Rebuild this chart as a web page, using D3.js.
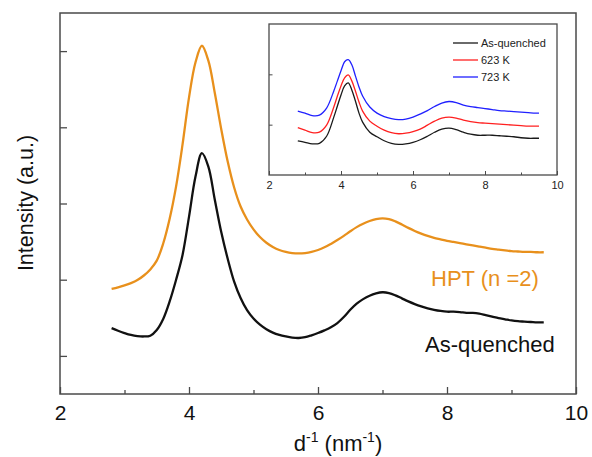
<!DOCTYPE html>
<html><head><meta charset="utf-8">
<script src="https://cdn.jsdelivr.net/npm/d3@7"></script>
<style>body{margin:0;background:#fff} svg{display:block} text{font-family:"Liberation Sans",Arial,sans-serif}</style>
</head><body><svg id="c" width="592" height="457"></svg>
<script>
// ---- main chart data ----
const xMain = [2.8,2.9,3.0,3.1,3.2,3.3,3.4,3.5,3.6,3.7,3.8,3.9,4.0,4.1,4.2,4.3,4.4,4.5,4.6,4.7,4.8,4.9,5.0,5.1,5.2,5.3,5.4,5.5,5.6,5.7,5.8,5.9,6.0,6.1,6.2,6.3,6.4,6.5,6.6,6.7,6.8,6.9,7.0,7.1,7.2,7.3,7.4,7.5,7.6,7.7,7.8,7.9,8.0,8.1,8.2,8.3,8.4,8.5,8.6,8.7,8.8,8.9,9.0,9.1,9.2,9.3,9.4,9.5];
const asQuenched = [173,166,160,155,152,151,153,168,197,243,300,365,465,570,632,597,510,425,355,295,252,220,198,182,170,161,155,151,148,147,149,154,160,167,175,186,202,221,237,249,258,264,267,265,259,251,243,236,230,225,221,218,216,216,215,213,213,211,207,203,199,196,193,191,190,189,188,188];
const hpt = [276,280,285,291,299,311,327,350,395,460,545,655,778,870,914,875,790,695,610,542,492,458,432,412,397,386,378,373,370,369,370,373,378,385,394,404,415,427,438,447,454,459,461,459,453,445,436,428,421,415,410,406,402,399,396,393,390,387,384,381,379,377,375,374,373,373,372,372];
const mainXTicks = [2,4,6,8,10];
const mainXMinor = [3,5,7,9];
const mainYTicks = [100,300,500,700,900];
const mainLabels = ["HPT (n =2)", "As-quenched"];

// ---- inset data ----
const xInset = [2.8,3.0,3.2,3.4,3.6,3.8,3.9,4.0,4.1,4.2,4.3,4.4,4.5,4.6,4.8,5.0,5.2,5.4,5.6,5.8,6.0,6.2,6.4,6.6,6.8,7.0,7.2,7.4,7.6,7.8,8.0,8.2,8.4,8.6,8.8,9.0,9.2,9.4,9.5];
const insetAsQuenched = [68,65,62,63,77,115,137,159,177,183,169,147,123,105,85,76,68,63,61,62,65,70,77,85,91,93,90,85,81,79,79,79,78,77,76,74,73,73,73];
const inset623 = [94,89,84,85,99,135,157,177,193,199,187,167,145,127,107,97,89,84,82,83,86,91,99,107,113,115,113,109,106,104,103,102,101,100,99,98,97,97,97];
const inset723 = [127,123,118,119,133,167,187,207,225,229,219,197,175,157,135,123,116,112,110,111,115,121,128,136,143,146,144,139,136,134,132,130,128,127,126,125,124,123,123];
const insetNames = ["As-quenched","623 K","723 K"];
const insetColors = ["#1a1a1a","#ff2020","#2020ff"];
const insetXTicks = [2,4,6,8,10];
const insetXMinor = [3,5,7,9];
const insetYTicks = [100,200];

const svg = d3.select("#c");
const frameColor = "#4a4a4a";
const FONT = "Liberation Sans, Arial, sans-serif";

// ---- main scales ----
const x = d3.scaleLinear().domain([2,10]).range([60,576]);
const y = d3.scaleLinear().domain([0,1000]).range([394,13]);

const line = d3.line().x(d=>x(d[0])).y(d=>y(d[1])).curve(d3.curveCatmullRom.alpha(0.5));
svg.append("path").datum(xMain.map((v,i)=>[v,hpt[i]]))
  .attr("d",line).attr("fill","none").attr("stroke","#e8901c").attr("stroke-width",2.3);
svg.append("path").datum(xMain.map((v,i)=>[v,asQuenched[i]]))
  .attr("d",line).attr("fill","none").attr("stroke","#111").attr("stroke-width",2.3);

// axes
const gx = svg.append("g").attr("transform","translate(0,394)")
  .call(d3.axisBottom(x).tickValues(mainXTicks).tickSize(-7).tickSizeOuter(0).tickPadding(11));
gx.selectAll("text").attr("font-size",21).attr("fill","#111").attr("font-family",FONT);
const gxm = svg.append("g").attr("transform","translate(0,394)")
  .call(d3.axisBottom(x).tickValues(mainXMinor).tickSize(-4).tickSizeOuter(0).tickFormat(""));
const gy = svg.append("g").attr("transform","translate(60,0)")
  .call(d3.axisLeft(y).tickValues(mainYTicks).tickSize(-7).tickSizeOuter(0).tickFormat(""));
[gx,gxm,gy].forEach(g=>{g.selectAll("line").attr("stroke",frameColor).attr("stroke-width",1.3);g.select(".domain").remove();});

svg.append("rect").attr("x",60).attr("y",13).attr("width",516).attr("height",381)
  .attr("fill","none").attr("stroke",frameColor).attr("stroke-width",1.5);

// axis titles
svg.append("text").attr("transform","translate(33,203) rotate(-90)").attr("text-anchor","middle")
  .attr("font-size",21.5).attr("fill","#111").text("Intensity (a.u.)");
const xt = svg.append("text").attr("x",338).attr("y",451).attr("text-anchor","middle").attr("font-size",22).attr("fill","#111");
xt.append("tspan").text("d");
xt.append("tspan").attr("dy",-9).attr("font-size",14).text("-1");
xt.append("tspan").attr("dy",9).text(" (nm");
xt.append("tspan").attr("dy",-9).attr("font-size",14).text("-1");
xt.append("tspan").attr("dy",9).text(")");

// series labels
svg.append("text").attr("x",431).attr("y",286).attr("font-size",22).attr("fill","#e8901c").text(mainLabels[0]);
svg.append("text").attr("x",425).attr("y",352).attr("font-size",22).attr("fill","#111").text(mainLabels[1]);

// ---- inset ----
const ix = d3.scaleLinear().domain([2,10]).range([269,557]);
const iy = d3.scaleLinear().domain([0,300]).range([175,24]);
svg.append("rect").attr("x",269).attr("y",24).attr("width",288).attr("height",151).attr("fill","#fff");
const iline = d3.line().x(d=>ix(d[0])).y(d=>iy(d[1])).curve(d3.curveCatmullRom.alpha(0.5));
[insetAsQuenched, inset623, inset723].forEach((s,k)=>{
  svg.append("path").datum(xInset.map((v,i)=>[v,s[i]])).attr("d",iline)
    .attr("fill","none").attr("stroke",insetColors[k]).attr("stroke-width",1.3);
});
const igx = svg.append("g").attr("transform","translate(0,175)")
  .call(d3.axisBottom(ix).tickValues(insetXTicks).tickSize(-4).tickSizeOuter(0).tickPadding(6));
igx.selectAll("text").attr("font-size",11).attr("fill","#222").attr("font-family",FONT);
const igxm = svg.append("g").attr("transform","translate(0,175)")
  .call(d3.axisBottom(ix).tickValues(insetXMinor).tickSize(-2.5).tickSizeOuter(0).tickFormat(""));
const igy = svg.append("g").attr("transform","translate(269,0)")
  .call(d3.axisLeft(iy).tickValues(insetYTicks).tickSize(-3.5).tickSizeOuter(0).tickFormat(""));
[igx,igxm,igy].forEach(g=>{g.selectAll("line").attr("stroke",frameColor);g.select(".domain").remove();});
svg.append("rect").attr("x",269).attr("y",24).attr("width",288).attr("height",151)
  .attr("fill","none").attr("stroke",frameColor).attr("stroke-width",1.3);

// inset legend
insetNames.forEach((n,k)=>{
  const yy = 43 + k*17;
  svg.append("line").attr("x1",453).attr("x2",478).attr("y1",yy).attr("y2",yy).attr("stroke",insetColors[k]).attr("stroke-width",1.3);
  svg.append("text").attr("x",481).attr("y",yy+4).attr("font-size",11).attr("fill","#222").text(n);
});
</script></body></html>
